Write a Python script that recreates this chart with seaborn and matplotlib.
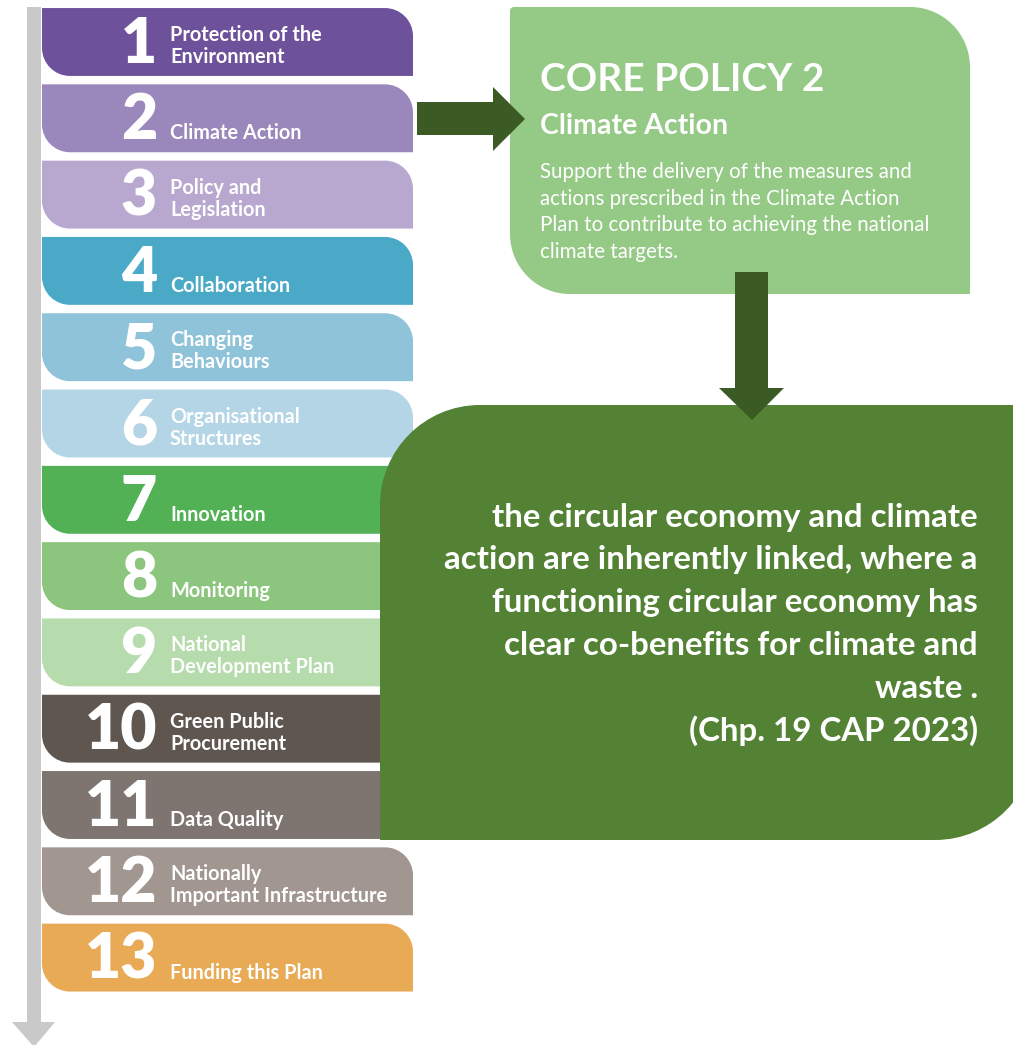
import numpy as np
import matplotlib
matplotlib.use("Agg")
import matplotlib.pyplot as plt
from matplotlib.path import Path
from matplotlib.patches import PathPatch, Polygon
import seaborn as sns

# policy list (top to bottom)
numbers = ["1", "2", "3", "4", "5", "6", "7", "8", "9", "10", "11", "12", "13"]
line1 = ["Protection of the", "", "Policy and", "", "Changing", "Organisational", "",
         "", "National", "Green Public", "", "Nationally", ""]
line2 = ["Environment", "Climate Action", "Legislation", "Collaboration", "Behaviours",
         "Structures", "Innovation", "Monitoring", "Development Plan", "Procurement",
         "Data Quality", "Important Infrastructure", "Funding this Plan"]
bar_len = [1] * 13
colors = ["#6e519b", "#9a87bb", "#b8a8cf", "#4ba9c8", "#8fc3da", "#b4d5e6", "#52b155",
          "#8cc57e", "#b6dbac", "#5f5650", "#7e7570", "#a19690", "#e9aa55"]

core_title = "CORE POLICY 2"
core_sub = "Climate Action"
core_body = ["Support the delivery of the measures and",
             "actions prescribed in the Climate Action",
             "Plan to contribute to achieving the national",
             "climate targets."]
quote = ["the circular economy and climate",
         "action are inherently linked, where a",
         "functioning circular economy has",
         "clear co-benefits for climate and",
         "waste .",
         "(Chp. 19 CAP 2023)"]

sns.set_style("white")
plt.rcParams['font.family'] = ['Lato', 'DejaVu Sans']

W, H = 1013, 1045
fig = plt.figure(figsize=(W / 100, H / 100), dpi=100)

# bars axis: positioned so that bar i sits at pixel row 42 + 76.3*i
ax = fig.add_axes([0, 0, 1, 1])
labels = [f"{n}. {t}" for n, t in zip(numbers, line2)]
sns.barplot(x=bar_len, y=labels, hue=labels, palette=colors, orient='h', width=0.89,
            saturation=1, legend=False, ax=ax)
ax.set_xlim(-42 / 371, (W - 42) / 371)
ax.set_ylim((H - 42) / 76.3, -42 / 76.3)
ax.axis('off')

# overlay in pixel coordinates
ax2 = fig.add_axes([0, 0, 1, 1])
ax2.set_xlim(0, W)
ax2.set_ylim(H, 0)
ax2.axis('off')
ax2.patch.set_alpha(0)

K = 0.5523


def rounded(x0, y0, x1, y1, tl=0, tr=0, br=0, bl=0):
    v = [(x0 + tl, y0), (x1 - tr, y0),
         (x1 - tr + K * tr, y0), (x1, y0 + tr - K * tr), (x1, y0 + tr),
         (x1, y1 - br),
         (x1, y1 - br + K * br), (x1 - br + K * br, y1), (x1 - br, y1),
         (x0 + bl, y1),
         (x0 + bl - K * bl, y1), (x0, y1 - bl + K * bl), (x0, y1 - bl),
         (x0, y0 + tl),
         (x0, y0 + tl - K * tl), (x0 + tl - K * tl, y0), (x0 + tl, y0),
         (x0 + tl, y0)]
    c = [Path.MOVETO, Path.LINETO, Path.CURVE4, Path.CURVE4, Path.CURVE4, Path.LINETO,
         Path.CURVE4, Path.CURVE4, Path.CURVE4, Path.LINETO,
         Path.CURVE4, Path.CURVE4, Path.CURVE4, Path.LINETO,
         Path.CURVE4, Path.CURVE4, Path.CURVE4, Path.CLOSEPOLY]
    return Path(v, c)


to_pix = ax.transData + ax2.transData.inverted()
for i, p in enumerate(ax.patches[:13]):
    bb = p.get_bbox()
    (px0, py0), (px1, py1) = to_pix.transform([(bb.x0, bb.y0), (bb.x1, bb.y1)])
    x0, x1 = min(px0, px1), max(px0, px1)
    y0, y1 = min(py0, py1), max(py0, py1)
    p.set_visible(False)
    ax2.add_patch(PathPatch(rounded(x0, y0, x1, y1, tr=28, bl=28),
                            facecolor=p.get_facecolor(), edgecolor='none', zorder=1))
    ax2.text(157, y0 + 55, numbers[i], ha='right', va='baseline', color='white',
             fontsize=45, fontweight='heavy', zorder=2)
    ax2.text(170, y0 + 55, line2[i], ha='left', va='baseline', color='white',
             fontsize=14.3, fontweight='bold', zorder=2)
    if line1[i]:
        ax2.text(170, y0 + 33, line1[i], ha='left', va='baseline', color='white',
                 fontsize=14.3, fontweight='bold', zorder=2)

# grey timeline arrow
ax2.add_patch(Polygon([(27, 7), (41, 7), (41, 1022), (55, 1022), (34, 1047),
                       (12, 1022), (27, 1022)], closed=True, facecolor='#c8c9c8',
                      edgecolor='none', zorder=1))

# light green core policy box
ax2.add_patch(PathPatch(rounded(510, 7, 970, 294, tl=4, tr=60, bl=60),
                        facecolor='#95c986', edgecolor='none', zorder=1))
ax2.text(540, 91, core_title, color='white', fontsize=28, fontweight='bold', va='baseline')
ax2.text(540, 134, core_sub, color='white', fontsize=20.5, fontweight='bold', va='baseline')
for j, ln in enumerate(core_body):
    ax2.text(540, 178 + 26.7 * j, ln, color='white', fontsize=14.8, va='baseline')

# dark green statement box
ax2.add_patch(PathPatch(rounded(380, 405, 1035, 840, tl=100, br=100),
                        facecolor='#548235', edgecolor='none', zorder=3))
for j, ln in enumerate(quote):
    ax2.text(978, 517 + 42.8 * j, ln, color='white', fontsize=23.8, fontweight='bold',
             ha='right', va='center', zorder=4)

# arrows
arrow_c = '#3b5a24'
ax2.add_patch(Polygon([(417, 102), (493, 102), (493, 87), (525, 119), (493, 151),
                       (493, 135), (417, 135)], closed=True, facecolor=arrow_c,
                      edgecolor='none', zorder=5))
ax2.add_patch(Polygon([(735, 272), (768, 272), (768, 388), (784, 388), (752, 420),
                       (719, 388), (735, 388)], closed=True, facecolor=arrow_c,
                      edgecolor='none', zorder=5))

fig.savefig("out.png", dpi=100, facecolor='white')
